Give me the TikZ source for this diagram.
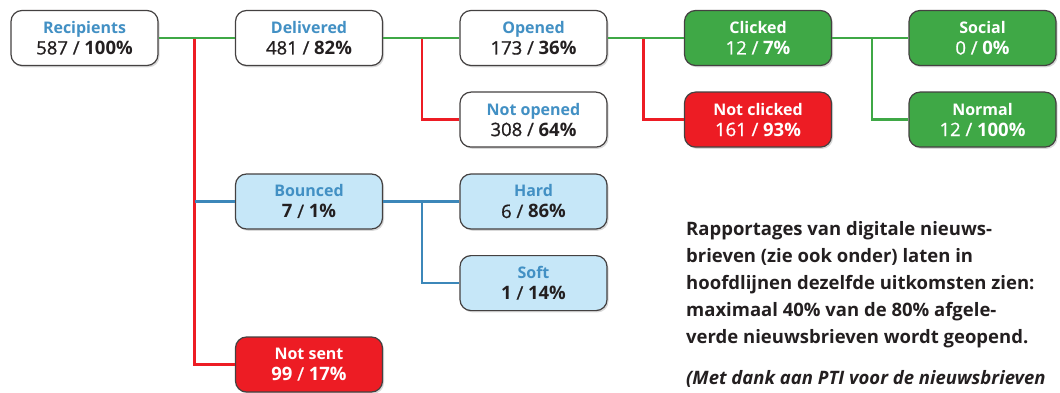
\documentclass[tikz,border=0pt]{standalone}
\usepackage{fontspec}
\setmainfont{Open Sans}
\newfontface\numfont[FakeBold=0.8]{Open Sans}
\usetikzlibrary{positioning,shadows}

\definecolor{boxgreen}{HTML}{3FA846}
\definecolor{boxred}{HTML}{ED1C24}
\definecolor{boxblue}{HTML}{C6E7F8}
\definecolor{ttlblue}{HTML}{4290C4}
\definecolor{lineblue}{HTML}{3C87B9}
\definecolor{ink}{HTML}{231F20}

\tikzset{
    statbox/.style = {draw=ink!85, line width=1.2pt, rounded corners=11pt,
                      minimum width=147pt, minimum height=55pt, inner sep=0pt,
                      align=center, font=\fontsize{18.5}{21}\numfont,
                      drop shadow={shadow xshift=1.5pt, shadow yshift=-1.8pt, opacity=0.3}},
    whitebox/.style = {statbox, fill=white, text=ink},
    greenbox/.style = {statbox, fill=boxgreen, text=white},
    redbox/.style   = {statbox, fill=boxred, text=white},
    bluebox/.style  = {statbox, fill=boxblue, text=ink},
    gline/.style = {draw=boxgreen, line width=2.6pt},
    rline/.style = {draw=boxred, line width=2.4pt},
    bline/.style = {draw=lineblue, line width=2.6pt},
}
\newcommand{\ttl}[1]{{\fontsize{16}{21}\selectfont\rmfamily\bfseries #1}}
\newcommand{\bttl}[1]{\textcolor{ttlblue}{\ttl{#1}}}
\newcommand{\bnum}[1]{{\rmfamily\bfseries #1}}
\newcommand{\pct}[1]{\bnum{#1\%}}

\begin{document}
\begin{tikzpicture}[node distance = 81.6pt and 224.5pt, on grid]
    \clip (0,0) rectangle (1060pt,-393pt);
    \useasboundingbox (0,0) rectangle (1060pt,-393pt);

    % top row
    \node[whitebox] at (84.5pt,-38pt)   (rcpt)    {\bttl{Recipients}\\587 / \pct{100}};
    \node[whitebox, right = of rcpt]    (dlvr)    {\bttl{Delivered}\\481 / \pct{82}};
    \node[whitebox, right = of dlvr]    (opnd)    {\bttl{Opened}\\173 / \pct{36}};
    \node[greenbox, right = of opnd]    (clkd)    {\ttl{Clicked}\\12 / \pct{7}};
    \node[greenbox, right = of clkd]    (socl)    {\ttl{Social}\\0 / \pct{0}};
    % second row
    \node[whitebox, below = of opnd]    (notopnd) {\bttl{Not opened}\\308 / \pct{64}};
    \node[redbox,   below = of clkd]    (notclkd) {\ttl{Not clicked}\\161 / \pct{93}};
    \node[greenbox, below = of socl]    (nrml)    {\ttl{Normal}\\12 / \pct{100}};
    % bounced and not sent
    \node[bluebox,  below = 163.5pt of dlvr] (bncd) {\bttl{Bounced}\\\bnum{7} / \pct{1}};
    \node[bluebox,  right = of bncd]    (hard)    {\bttl{Hard}\\6 / \pct{86}};
    \node[bluebox,  below = of hard]    (soft)    {\bttl{Soft}\\\bnum{1} / \pct{14}};
    \node[redbox,   below = 163pt of bncd] (notsent) {\ttl{Not sent}\\\bnum{99} / \pct{17}};

    % connectors
    \coordinate[right = 36pt of rcpt.east] (j_rcpt);
    \coordinate[right = 39pt of dlvr.east] (j_dlvr);
    \coordinate[right = 36pt of opnd.east] (j_opnd);
    \coordinate[right = 40pt of clkd.east] (j_clkd);
    \coordinate[right = 39pt of bncd.east] (j_bncd);

    \draw[rline] (j_rcpt) |- (notsent);
    \draw[bline] (j_rcpt |- bncd) -- (bncd);
    \draw[gline] (rcpt) -- (dlvr);
    \draw[rline] (j_dlvr) |- (notopnd);
    \draw[gline] (dlvr) -- (opnd);
    \draw[rline] (j_opnd) |- (notclkd);
    \draw[gline] (opnd) -- (clkd);
    \draw[gline] (j_clkd) |- (nrml);
    \draw[gline] (clkd) -- (socl);
    \draw[bline] (bncd) -- (hard);
    \draw[bline] (j_bncd) |- (soft);

    % caption
    \node[anchor=north west, inner sep=0pt, align=left, text=ink,
          font=\fontsize{18.5}{27.1}\selectfont\bfseries] (note) at (686pt,-221pt)
        {Rapportages van digitale nieuws-\\
         brieven (zie ook onder) laten in\\
         hoofdlijnen dezelfde uitkomsten zien:\\
         maximaal 40\% van de 80\% afgele-\\
         verde nieuwsbrieven wordt geopend.\\[14pt]
         \itshape (Met dank aan PTI voor de nieuwsbrieven};
\end{tikzpicture}
\end{document}
